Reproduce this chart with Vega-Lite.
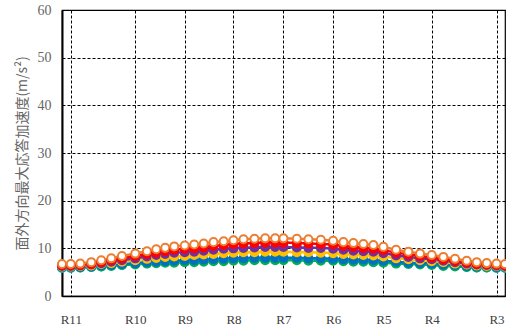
{
  "$schema": "https://vega.github.io/schema/vega-lite/v6.json",
  "autosize": {"type": "none"},
  "padding": {"left": 62, "top": 10, "right": 1, "bottom": 37},
  "width": 443,
  "height": 286,
  "background": "white",
  "config": {
    "view": {"stroke": "black", "strokeWidth": 1.2},
    "axis": {"gridColor": "black", "gridDash": [3, 2], "gridWidth": 1, "gridOpacity": 1, "ticks": false}
  },
  "data": {
    "values": [
      {"x": 0, "cyan": 5.9, "green": 6.0, "blue": 6.1, "yellow": 6.2, "purple": 6.3, "red": 6.4, "orange": 6.7},
      {"x": 8.8, "cyan": 5.9, "green": 6.0, "blue": 6.1, "yellow": 6.2, "purple": 6.3, "red": 6.4, "orange": 6.7},
      {"x": 18.3, "cyan": 6.0, "green": 6.0, "blue": 6.1, "yellow": 6.3, "purple": 6.4, "red": 6.5, "orange": 6.8},
      {"x": 29.3, "cyan": 6.1, "green": 6.1, "blue": 6.2, "yellow": 6.4, "purple": 6.6, "red": 6.7, "orange": 7.1},
      {"x": 39.3, "cyan": 6.2, "green": 6.2, "blue": 6.4, "yellow": 6.7, "purple": 6.9, "red": 7.1, "orange": 7.5},
      {"x": 49.3, "cyan": 6.4, "green": 6.3, "blue": 6.5, "yellow": 6.9, "purple": 7.2, "red": 7.5, "orange": 7.9},
      {"x": 60, "cyan": 6.5, "green": 6.5, "blue": 6.7, "yellow": 7.2, "purple": 7.5, "red": 7.9, "orange": 8.4},
      {"x": 73.3, "cyan": 6.7, "green": 6.6, "blue": 6.9, "yellow": 7.5, "purple": 7.9, "red": 8.4, "orange": 8.9},
      {"x": 85, "cyan": 6.9, "green": 6.8, "blue": 7.1, "yellow": 7.8, "purple": 8.3, "red": 8.8, "orange": 9.4},
      {"x": 94.3, "cyan": 7.0, "green": 6.9, "blue": 7.2, "yellow": 8.0, "purple": 8.6, "red": 9.1, "orange": 9.8},
      {"x": 103.3, "cyan": 7.1, "green": 7.0, "blue": 7.3, "yellow": 8.2, "purple": 8.8, "red": 9.4, "orange": 10.1},
      {"x": 112.3, "cyan": 7.2, "green": 7.0, "blue": 7.4, "yellow": 8.3, "purple": 9.1, "red": 9.7, "orange": 10.4},
      {"x": 122.8, "cyan": 7.2, "green": 7.1, "blue": 7.5, "yellow": 8.4, "purple": 9.2, "red": 9.9, "orange": 10.6},
      {"x": 132.3, "cyan": 7.3, "green": 7.1, "blue": 7.5, "yellow": 8.6, "purple": 9.3, "red": 10.0, "orange": 10.8},
      {"x": 141.8, "cyan": 7.4, "green": 7.2, "blue": 7.6, "yellow": 8.7, "purple": 9.5, "red": 10.2, "orange": 11.0},
      {"x": 151.6, "cyan": 7.5, "green": 7.3, "blue": 7.7, "yellow": 8.8, "purple": 9.7, "red": 10.5, "orange": 11.3},
      {"x": 161.8, "cyan": 7.5, "green": 7.3, "blue": 7.8, "yellow": 9.0, "purple": 9.9, "red": 10.7, "orange": 11.5},
      {"x": 171.6, "cyan": 7.6, "green": 7.4, "blue": 7.9, "yellow": 9.1, "purple": 10.0, "red": 10.9, "orange": 11.7},
      {"x": 181.6, "cyan": 7.6, "green": 7.4, "blue": 7.9, "yellow": 9.2, "purple": 10.1, "red": 11.0, "orange": 11.9},
      {"x": 192.6, "cyan": 7.7, "green": 7.5, "blue": 8.0, "yellow": 9.2, "purple": 10.2, "red": 11.1, "orange": 12.0},
      {"x": 203.3, "cyan": 7.7, "green": 7.5, "blue": 8.0, "yellow": 9.3, "purple": 10.3, "red": 11.2, "orange": 12.1},
      {"x": 213.3, "cyan": 7.7, "green": 7.5, "blue": 8.0, "yellow": 9.3, "purple": 10.3, "red": 11.2, "orange": 12.1},
      {"x": 221.6, "cyan": 7.7, "green": 7.5, "blue": 8.0, "yellow": 9.3, "purple": 10.3, "red": 11.2, "orange": 12.1},
      {"x": 235, "cyan": 7.7, "green": 7.5, "blue": 8.0, "yellow": 9.2, "purple": 10.2, "red": 11.1, "orange": 12.0},
      {"x": 246.6, "cyan": 7.6, "green": 7.4, "blue": 7.9, "yellow": 9.2, "purple": 10.1, "red": 11.0, "orange": 11.9},
      {"x": 259, "cyan": 7.6, "green": 7.4, "blue": 7.9, "yellow": 9.1, "purple": 10.1, "red": 10.9, "orange": 11.8},
      {"x": 271.3, "cyan": 7.5, "green": 7.4, "blue": 7.8, "yellow": 9.0, "purple": 9.9, "red": 10.8, "orange": 11.6},
      {"x": 281.6, "cyan": 7.4, "green": 7.3, "blue": 7.7, "yellow": 8.8, "purple": 9.7, "red": 10.5, "orange": 11.3},
      {"x": 291.6, "cyan": 7.4, "green": 7.2, "blue": 7.6, "yellow": 8.7, "purple": 9.5, "red": 10.3, "orange": 11.1},
      {"x": 301.6, "cyan": 7.3, "green": 7.2, "blue": 7.6, "yellow": 8.6, "purple": 9.4, "red": 10.1, "orange": 10.9},
      {"x": 311.6, "cyan": 7.2, "green": 7.1, "blue": 7.5, "yellow": 8.5, "purple": 9.3, "red": 9.9, "orange": 10.7},
      {"x": 321.6, "cyan": 7.1, "green": 7.0, "blue": 7.4, "yellow": 8.3, "purple": 9.0, "red": 9.6, "orange": 10.3},
      {"x": 334.3, "cyan": 6.9, "green": 6.8, "blue": 7.2, "yellow": 7.9, "purple": 8.5, "red": 9.1, "orange": 9.7},
      {"x": 346.6, "cyan": 6.8, "green": 6.7, "blue": 7.0, "yellow": 7.7, "purple": 8.2, "red": 8.7, "orange": 9.3},
      {"x": 358.3, "cyan": 6.7, "green": 6.6, "blue": 6.9, "yellow": 7.5, "purple": 7.9, "red": 8.4, "orange": 8.9},
      {"x": 370, "cyan": 6.6, "green": 6.5, "blue": 6.8, "yellow": 7.3, "purple": 7.7, "red": 8.1, "orange": 8.6},
      {"x": 381.6, "cyan": 6.4, "green": 6.3, "blue": 6.6, "yellow": 7.1, "purple": 7.4, "red": 7.7, "orange": 8.2},
      {"x": 393.3, "cyan": 6.3, "green": 6.2, "blue": 6.5, "yellow": 6.8, "purple": 7.1, "red": 7.4, "orange": 7.8},
      {"x": 405, "cyan": 6.1, "green": 6.1, "blue": 6.3, "yellow": 6.6, "purple": 6.8, "red": 7.0, "orange": 7.4},
      {"x": 415, "cyan": 6.0, "green": 6.0, "blue": 6.2, "yellow": 6.4, "purple": 6.6, "red": 6.7, "orange": 7.1},
      {"x": 425, "cyan": 6.0, "green": 6.0, "blue": 6.2, "yellow": 6.3, "purple": 6.5, "red": 6.6, "orange": 6.9},
      {"x": 434.8, "cyan": 5.9, "green": 6.0, "blue": 6.1, "yellow": 6.3, "purple": 6.4, "red": 6.5, "orange": 6.8},
      {"x": 443.3, "cyan": 5.9, "green": 6.0, "blue": 6.1, "yellow": 6.2, "purple": 6.3, "red": 6.4, "orange": 6.7}
    ]
  },
  "transform": [
    {"fold": ["cyan", "green", "blue", "yellow", "purple", "red", "orange"], "as": ["series", "value"]}
  ],
  "encoding": {
    "x": {
      "field": "x",
      "type": "quantitative",
      "scale": {"domain": [0, 443.3], "nice": false, "zero": false},
      "axis": {
        "title": null,
        "values": [8.8, 73.3, 122.8, 171.6, 221.6, 271.3, 321.6, 370, 434.8],
        "labelExpr": "datum.value < 20 ? 'R11' : datum.value < 100 ? 'R10' : datum.value < 150 ? 'R9' : datum.value < 200 ? 'R8' : datum.value < 250 ? 'R7' : datum.value < 300 ? 'R6' : datum.value < 350 ? 'R5' : datum.value < 400 ? 'R4' : 'R3'",
        "labelFont": "Liberation Serif",
        "labelFontSize": 13,
        "labelFontWeight": "normal",
        "labelColor": "#404040",
        "labelPadding": 17,
        "domain": true,
        "domainColor": "black",
        "domainWidth": 1.5,
        "labelFlush": false
      }
    },
    "y": {
      "field": "value",
      "type": "quantitative",
      "scale": {"domain": [0, 60], "nice": false},
      "axis": {
        "title": "面外方向最大応答加速度(m/s²)",
        "titleFont": "Noto Sans CJK JP",
        "titleFontWeight": "normal",
        "titleFontSize": 14,
        "titleColor": "#666666",
        "titlePadding": 8,
        "values": [0, 10, 20, 30, 40, 50, 60],
        "labelFont": "Liberation Serif",
        "labelFontSize": 14,
        "labelColor": "#666666",
        "labelPadding": 11,
        "domain": true,
        "domainColor": "black",
        "domainWidth": 2
      }
    }
  },
  "layer": [
    {
      "mark": {"type": "line", "strokeWidth": 2.5},
      "encoding": {
        "color": {
          "field": "series",
          "type": "nominal",
          "scale": {
            "domain": ["cyan", "green", "blue", "yellow", "purple", "red", "orange"],
            "range": ["#00B0F0", "#00B050", "#0070C0", "#FFC000", "#7030A0", "#FF0000", "#ED7D31"]
          },
          "legend": null
        }
      }
    },
    {
      "mark": {"type": "point", "shape": "circle", "filled": true, "size": 65, "strokeWidth": 2, "opacity": 1},
      "encoding": {
        "fill": {
          "field": "series",
          "type": "nominal",
          "scale": {
            "domain": ["cyan", "green", "blue", "yellow", "purple", "red", "orange"],
            "range": ["#00B0F0", "#00B050", "#0070C0", "#FFC000", "#7030A0", "#FF0000", "#FFFFFF"]
          },
          "legend": null
        },
        "stroke": {
          "field": "series",
          "type": "nominal",
          "scale": {
            "domain": ["cyan", "green", "blue", "yellow", "purple", "red", "orange"],
            "range": ["#00B0F0", "#00B050", "#0070C0", "#FFC000", "#7030A0", "#FF0000", "#ED7D31"]
          },
          "legend": null
        }
      }
    }
  ]
}
